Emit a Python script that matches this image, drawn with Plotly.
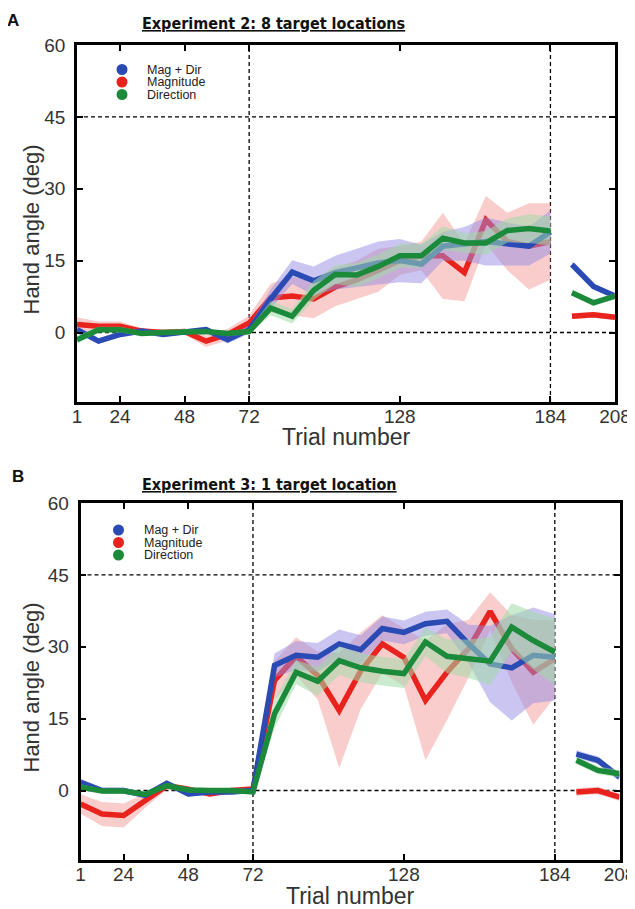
import plotly.graph_objects as go

W, H = 635, 909
OFF = 8                     # page body margin of the html page
FW, FH = W - OFF, H - OFF   # figure size so that it fits the window

# ---------------- data ----------------
trials_main = [8, 16, 24, 32, 40, 48, 56, 64, 72, 80, 88, 96, 104, 112, 120, 128,
               136, 144, 152, 160, 168, 176, 184]
trials_post = [192, 200, 208]

# Experiment 2 (panel A)
a_magdir = [0.6, -1.8, -0.4, 0.3, -0.4, 0.2, 0.6, -1.5, 0.6,
            7.0, 12.6, 10.8, 12.5, 13.5, 14.5, 15.0, 14.3, 18.0, 18.5, 19.0, 18.5, 18.0, 21.0]
a_magdir_err = [0.8, 0.6, 0.6, 0.5, 0.5, 0.5, 0.6, 0.8, 0.8,
                2.0, 2.5, 3.0, 3.5, 4.0, 4.5, 4.5, 4.0, 3.0, 3.5, 5.0, 4.5, 4.0, 4.5]
a_mag = [1.7, 1.3, 1.3, 0.3, 0.0, 0.2, -1.8, -0.4, 2.0,
         7.2, 7.6, 7.0, 9.5, 11.0, 13.0, 15.0, 16.0, 16.0, 12.5, 23.5, 19.0, 18.0, 19.0]
a_mag_err = [1.5, 1.0, 1.0, 0.6, 0.6, 0.6, 1.2, 1.2, 1.5,
             3.0, 4.0, 4.0, 4.0, 4.0, 4.5, 3.0, 3.0, 9.0, 6.0, 5.0, 6.0, 9.0, 8.0]
a_dir = [-1.5, 0.6, 0.6, -0.2, 0.0, 0.2, 0.2, -0.2, 0.2,
         5.1, 3.4, 8.8, 12.1, 12.0, 13.8, 16.0, 16.0, 19.7, 18.7, 18.7, 21.3, 21.7, 21.2]
a_dir_err = [0.8, 0.6, 0.6, 0.5, 0.5, 0.5, 0.5, 0.5, 0.6,
             1.5, 1.5, 2.0, 2.0, 2.5, 2.5, 2.5, 2.5, 2.5, 2.0, 2.5, 2.5, 3.0, 3.0]
a_magdir_post = [14.2, 9.6, 7.6]
a_mag_post = [3.4, 3.7, 3.2]
a_dir_post = [8.3, 6.2, 7.6]
a_post_err = [0.6, 0.6, 0.6]

# Experiment 3 (panel B)
b_magdir = [1.7, 0.0, 0.0, -1.0, 1.5, -0.7, -0.3, -0.3, 0.0,
            26.1, 28.2, 27.8, 30.6, 29.4, 33.8, 33.0, 34.8, 35.3, 30.6, 26.4, 25.6, 28.2, 27.8]
b_magdir_err = [0.8, 0.6, 0.6, 0.6, 0.6, 0.6, 0.5, 0.5, 0.5,
                2.5, 3.0, 3.0, 3.0, 3.0, 2.5, 2.5, 2.5, 2.5, 4.0, 8.0, 11.0, 10.0, 9.0]
b_mag = [-2.8, -4.9, -5.2, -2.1, 1.0, 0.3, -0.7, 0.0, 0.3,
         23.0, 28.0, 24.0, 16.7, 25.0, 30.6, 27.8, 18.8, 24.7, 29.6, 37.4, 29.6, 24.7, 27.5]
b_mag_err = [2.0, 2.5, 2.5, 1.5, 0.8, 0.6, 0.6, 0.6, 0.6,
             4.0, 4.0, 5.0, 12.0, 8.0, 6.0, 6.0, 12.5, 10.0, 6.0, 4.0, 7.0, 11.0, 8.0]
b_dir = [0.7, -0.1, -0.1, -0.8, 1.0, 0.1, 0.0, 0.0, -0.3,
         16.0, 24.7, 22.8, 27.1, 25.6, 24.9, 24.4, 31.0, 28.0, 27.5, 27.0, 34.1, 31.3, 28.9]
b_dir_err = [0.6, 0.5, 0.5, 0.5, 0.5, 0.5, 0.5, 0.5, 0.5,
             3.0, 2.5, 3.0, 3.0, 3.0, 3.0, 3.0, 3.0, 3.5, 4.0, 5.0, 5.0, 6.0, 7.0]
b_magdir_post = [7.6, 6.3, 2.8]
b_mag_post = [-0.3, 0.0, -1.4]
b_dir_post = [6.3, 4.2, 3.5]
b_post_err = [0.8, 0.8, 0.8]

series_names = ["Mag + Dir", "Magnitude", "Direction"]
x_ticks = [8, 24, 48, 72, 128, 184, 208]
x_tick_text = ["1", "24", "48", "72", "128", "184", "208"]
y_ticks = [0, 15, 30, 45, 60]
panel_titles = ["Experiment 2: 8 target locations", "Experiment 3: 1 target location"]
panel_letters = ["A", "B"]

# ---------------- styles ----------------
LINE_COLORS = ["#2a4ab4", "#e8231d", "#1b8a3a"]
BAND_COLORS = ["rgba(150,140,228,0.5)", "rgba(246,155,155,0.5)", "rgba(160,218,168,0.55)"]
SANS = "Liberation Sans, Arial, Helvetica, sans-serif"
TICK_FONT = dict(family=SANS, size=19, color="#333")
COND = "DejaVu Sans Condensed, Liberation Sans Narrow, Arial Narrow, sans-serif"
DRAW_ORDER = [1, 0, 2]   # magnitude, then mag+dir, then direction on top


def px_x(p):
    return (p - OFF) / FW


def px_y(p):
    return 1 - (p - OFF) / FH


fig = go.Figure()

panels = [
    dict(xa="x", ya="y", dom_x=(77, 615), dom_y=(45, 402),
         main=[(a_magdir, a_magdir_err), (a_mag, a_mag_err), (a_dir, a_dir_err)],
         post=[a_magdir_post, a_mag_post, a_dir_post], post_err=a_post_err,
         leg=(122, [69.5, 82, 94.5]), title=(273, 24), letter=(13, 20), xtitle_y=437),
    dict(xa="x2", ya="y2", dom_x=(80.5, 619.5), dom_y=(503, 860),
         main=[(b_magdir, b_magdir_err), (b_mag, b_mag_err), (b_dir, b_dir_err)],
         post=[b_magdir_post, b_mag_post, b_dir_post], post_err=b_post_err,
         leg=(118.5, [530, 542.5, 555]), title=(269, 484), letter=(18, 476), xtitle_y=896),
]


def add_band_line(xs, ys, es, i, xa, ya):
    up = [y + e for y, e in zip(ys, es)]
    lo = [y - e for y, e in zip(ys, es)]
    fig.add_trace(go.Scatter(x=list(xs) + list(xs)[::-1], y=up + lo[::-1], fill="toself",
                             fillcolor=BAND_COLORS[i], line=dict(width=0), mode="lines",
                             hoverinfo="skip", showlegend=False, xaxis=xa, yaxis=ya))
    fig.add_trace(go.Scatter(x=xs, y=ys, mode="lines", name=series_names[i],
                             line=dict(color=LINE_COLORS[i], width=5.5),
                             showlegend=False, xaxis=xa, yaxis=ya))


for k, p in enumerate(panels):
    for i in DRAW_ORDER:
        ys, es = p["main"][i]
        add_band_line(trials_main, ys, es, i, p["xa"], p["ya"])
        add_band_line(trials_post, p["post"][i], p["post_err"], i, p["xa"], p["ya"])

    sfx = "" if k == 0 else "2"
    axis_common = dict(showgrid=False, zeroline=False, showline=True, linecolor="black",
                       linewidth=2.5, mirror="ticks", ticks="inside", ticklen=6,
                       tickwidth=2, tickcolor="black", tickfont=TICK_FONT, automargin=False)
    fig.layout["xaxis" + sfx] = dict(axis_common, domain=[px_x(p["dom_x"][0]), px_x(p["dom_x"][1])],
                                     range=[8, 208], tickvals=x_ticks, ticktext=x_tick_text,
                                     anchor="y" + sfx, ticklabelstandoff=-5,
                                     ticklabeloverflow="allow")
    fig.layout["yaxis" + sfx] = dict(axis_common, domain=[px_y(p["dom_y"][1]), px_y(p["dom_y"][0])],
                                     range=[-14.5, 60], tickvals=y_ticks,
                                     ticktext=[str(v) for v in y_ticks], anchor="x" + sfx,
                                     ticklabelstandoff=5)

    xr, yr = p["xa"], p["ya"]
    dash = dict(color="black", width=1.3, dash="4px,3px")
    for yv in (45, 0):
        fig.add_shape(type="line", xref=xr + " domain", yref=yr, x0=0, x1=1, y0=yv, y1=yv,
                      line=dash, layer="below")
    for xv in (72, 184):
        fig.add_shape(type="line", xref=xr, yref=yr + " domain", x0=xv, x1=xv, y0=0, y1=1,
                      line=dash, layer="below")

    # legend (manual, compact like the original)
    lx, lys = p["leg"]
    for i in range(3):
        fig.add_shape(type="circle", xref="paper", yref="paper", xsizemode="pixel",
                      ysizemode="pixel", xanchor=px_x(lx), yanchor=px_y(lys[i]),
                      x0=-5.5, x1=5.5, y0=-5.5, y1=5.5,
                      fillcolor=LINE_COLORS[i], line=dict(width=0))
        fig.add_annotation(x=px_x(lx + 24), y=px_y(lys[i]), xref="paper", yref="paper",
                           text=series_names[i], showarrow=False, xanchor="left",
                           yanchor="middle", borderpad=0,
                           font=dict(family=SANS, size=12.5, color="#222"))

    # panel title, letter, axis titles
    cx = (p["dom_x"][0] + p["dom_x"][1]) / 2
    tx, ty = p["title"]
    fig.add_annotation(x=px_x(tx), y=px_y(ty), xref="paper", yref="paper",
                       text="<b><u>" + panel_titles[k] + "</u></b>", showarrow=False,
                       xanchor="center", yanchor="middle",
                       font=dict(family=COND, size=16, color="#111"))
    lx0, ly0 = p["letter"]
    fig.add_annotation(x=px_x(lx0), y=px_y(ly0), xref="paper", yref="paper",
                       text="<b>" + panel_letters[k] + "</b>", showarrow=False,
                       xanchor="center", yanchor="middle", borderpad=0,
                       font=dict(family=SANS, size=17, color="#111"))
    fig.add_annotation(x=px_x(cx), y=px_y(p["xtitle_y"]), xref="paper", yref="paper",
                       text="Trial number", showarrow=False, xanchor="center",
                       yanchor="middle", borderpad=0,
                       font=dict(family=SANS, size=23, color="#333"))
    cy = (p["dom_y"][0] + p["dom_y"][1]) / 2 + 6
    fig.add_annotation(x=px_x(31), y=px_y(cy), xref="paper", yref="paper",
                       text="Hand angle (deg)", showarrow=False, textangle=-90,
                       xanchor="center", yanchor="middle",
                       font=dict(family=SANS, size=22, color="#333"))

fig.update_layout(width=FW, height=FH, margin=dict(l=0, r=0, t=0, b=0),
                  paper_bgcolor="white", plot_bgcolor="white", showlegend=False)

fig.write_html("out.html")
